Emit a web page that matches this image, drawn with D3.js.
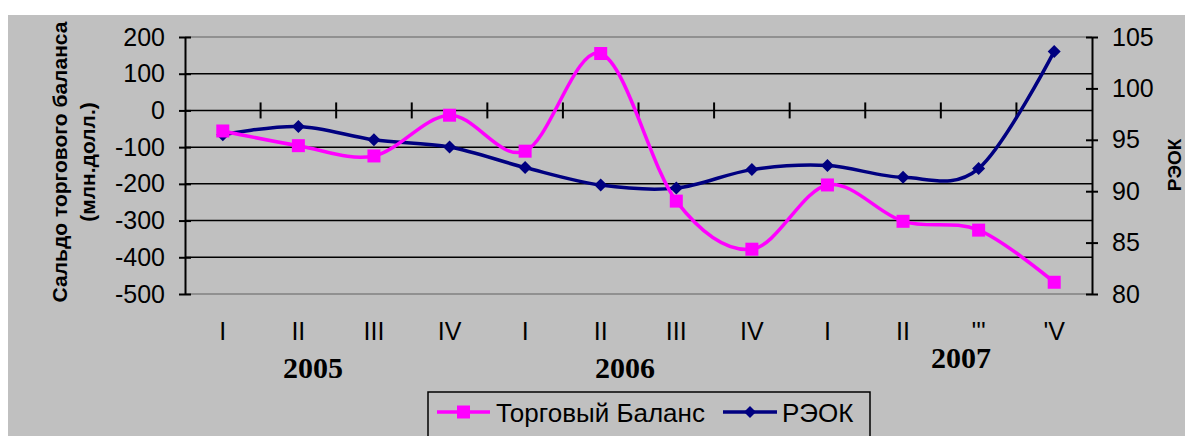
<!DOCTYPE html>
<html>
<head>
<meta charset="utf-8">
<script src="https://cdn.jsdelivr.net/npm/d3@7"></script>
<style>
  body { margin: 0; background: #fff; }
</style>
</head>
<body>
<div id="chart"></div>
<script>
// quarters 2005 - 2007
var quarters = ["I", "II", "III", "IV", "I", "II", "III", "IV", "I", "II", "'''", "'V"];
var years = ["2005", "2006", "2007"];
var balance = [-56, -96, -124, -13, -111, 155, -247, -378, -203, -302, -326, -468];
var reok = [95.5, 96.3, 95.0, 94.3, 92.3, 90.6, 90.3, 92.1, 92.5, 91.35, 92.2, 103.6];
var leftTicks = [200, 100, 0, -100, -200, -300, -400, -500];
var rightTicks = [105, 100, 95, 90, 85, 80];

var w = 1185, h = 436;
var plotLeft = 185, plotRight = 1092, plotTop = 37, plotBottom = 294;

var svg = d3.select("#chart").append("svg")
  .attr("width", w)
  .attr("height", h)
  .attr("font-family", "Arial, 'Liberation Sans', sans-serif");

svg.append("rect")
  .attr("x", 8).attr("y", 15)
  .attr("width", w - 8).attr("height", h - 15)
  .attr("fill", "#c0c0c0");

var x = d3.scaleBand()
  .domain(d3.range(quarters.length))
  .range([plotLeft, plotRight]);

var yL = d3.scaleLinear().domain([-500, 200]).range([plotBottom, plotTop]);
var yR = d3.scaleLinear().domain([80, 105]).range([plotBottom, plotTop]);

// gridlines
svg.append("g")
  .selectAll("line")
  .data(leftTicks)
  .enter()
  .append("line")
  .attr("x1", plotLeft).attr("x2", plotRight)
  .attr("y1", function(d) { return yL(d); })
  .attr("y2", function(d) { return yL(d); })
  .attr("stroke", function(d) { return (d == 200 || d == -500) ? "#808080" : "#000"; })
  .attr("stroke-width", 1.5);

// left axis (plain hyphen for negatives, like the original)
var leftAxis = d3.axisLeft(yL).tickValues(leftTicks)
  .tickFormat(function(d) { return String(d); })
  .tickSize(0).tickPadding(20);
var gl = svg.append("g")
  .attr("transform", "translate(" + plotLeft + ",0)")
  .call(leftAxis);
gl.select(".domain").attr("stroke", "#000").attr("stroke-width", 2);
gl.selectAll("text").attr("font-size", 25).attr("fill", "#000")
  .attr("font-family", "Arial, 'Liberation Sans', sans-serif");
gl.selectAll(".tick").append("line")
  .attr("x1", -6).attr("x2", 6)
  .attr("stroke", "#000").attr("stroke-width", 2);

// right axis
var rightAxis = d3.axisRight(yR).tickValues(rightTicks).tickSize(0).tickPadding(20);
var gr = svg.append("g")
  .attr("transform", "translate(" + plotRight + ",0)")
  .call(rightAxis);
gr.select(".domain").attr("stroke", "#000").attr("stroke-width", 2);
gr.selectAll("text").attr("font-size", 25).attr("fill", "#000")
  .attr("font-family", "Arial, 'Liberation Sans', sans-serif");
gr.selectAll(".tick").append("line")
  .attr("x1", -6).attr("x2", 6)
  .attr("stroke", "#000").attr("stroke-width", 2);

// category axis crossing at 0, labels low
svg.append("g")
  .selectAll("line")
  .data(d3.range(1, quarters.length))
  .enter()
  .append("line")
  .attr("x1", function(d) { return x(d); })
  .attr("x2", function(d) { return x(d); })
  .attr("y1", yL(0) - 8).attr("y2", yL(0) + 8)
  .attr("stroke", "#000").attr("stroke-width", 2);

svg.append("g")
  .selectAll("text")
  .data(quarters)
  .enter()
  .append("text")
  .attr("x", function(d, i) { return x(i) + x.bandwidth() / 2; })
  .attr("y", 340)
  .attr("text-anchor", "middle")
  .attr("font-size", 25)
  .text(function(d) { return d; });

svg.append("g")
  .selectAll("text")
  .data(years)
  .enter()
  .append("text")
  .attr("x", function(d, i) { return [313, 625, 961][i]; })
  .attr("y", function(d, i) { return i == 2 ? 368 : 378; })
  .attr("text-anchor", "middle")
  .attr("font-family", "'Liberation Serif', 'Times New Roman', serif")
  .attr("font-weight", "bold")
  .attr("font-size", 30)
  .text(function(d) { return d; });

// axis titles
var lt = svg.append("text")
  .attr("transform", "translate(67,162) rotate(-90)")
  .attr("text-anchor", "middle")
  .attr("font-weight", "bold")
  .attr("font-size", 21);
lt.append("tspan").attr("x", 0).attr("dy", 0).text("Сальдо торгового баланса");
lt.append("tspan").attr("x", 0).attr("dy", 28).text("(млн.долл.)");

svg.append("text")
  .attr("transform", "translate(1181,165) rotate(-90)")
  .attr("text-anchor", "middle")
  .attr("font-weight", "bold")
  .attr("font-size", 19)
  .text("РЭОК");

// lines
var lineL = d3.line()
  .x(function(d, i) { return x(i) + x.bandwidth() / 2; })
  .y(function(d) { return yL(d); })
  .curve(d3.curveCardinal.tension(0));

var lineR = d3.line()
  .x(function(d, i) { return x(i) + x.bandwidth() / 2; })
  .y(function(d) { return yR(d); })
  .curve(d3.curveCardinal.tension(0));

svg.append("path")
  .attr("d", lineR(reok))
  .attr("fill", "none")
  .attr("stroke", "#000080")
  .attr("stroke-width", 3.5);

svg.append("g")
  .selectAll("path")
  .data(reok)
  .enter()
  .append("path")
  .attr("transform", function(d, i) { return "translate(" + (x(i) + x.bandwidth() / 2) + "," + yR(d) + ")"; })
  .attr("d", "M0,-6.5L6.5,0L0,6.5L-6.5,0Z")
  .attr("fill", "#000080");

svg.append("path")
  .attr("d", lineL(balance))
  .attr("fill", "none")
  .attr("stroke", "#ff00ff")
  .attr("stroke-width", 3.5);

svg.append("g")
  .selectAll("rect")
  .data(balance)
  .enter()
  .append("rect")
  .attr("x", function(d, i) { return x(i) + x.bandwidth() / 2 - 6.5; })
  .attr("y", function(d) { return yL(d) - 6.5; })
  .attr("width", 13).attr("height", 13)
  .attr("fill", "#ff00ff");

// legend
var lg = svg.append("g");
lg.append("rect")
  .attr("x", 428).attr("y", 392)
  .attr("width", 442).attr("height", 60)
  .attr("fill", "none")
  .attr("stroke", "#000").attr("stroke-width", 1.5);

lg.append("line")
  .attr("x1", 437).attr("x2", 490).attr("y1", 412).attr("y2", 412)
  .attr("stroke", "#ff00ff").attr("stroke-width", 3.5);
lg.append("rect")
  .attr("x", 457).attr("y", 405.5).attr("width", 13).attr("height", 13)
  .attr("fill", "#ff00ff");
lg.append("text")
  .attr("x", 496).attr("y", 422)
  .attr("font-size", 26)
  .text("Торговый Баланс");

lg.append("line")
  .attr("x1", 723).attr("x2", 777).attr("y1", 412).attr("y2", 412)
  .attr("stroke", "#000080").attr("stroke-width", 3.5);
lg.append("path")
  .attr("transform", "translate(750,412)")
  .attr("d", "M0,-6L6,0L0,6L-6,0Z")
  .attr("fill", "#000080");
lg.append("text")
  .attr("x", 782).attr("y", 422)
  .attr("font-size", 26)
  .text("РЭОК");
</script>
</body>
</html>
